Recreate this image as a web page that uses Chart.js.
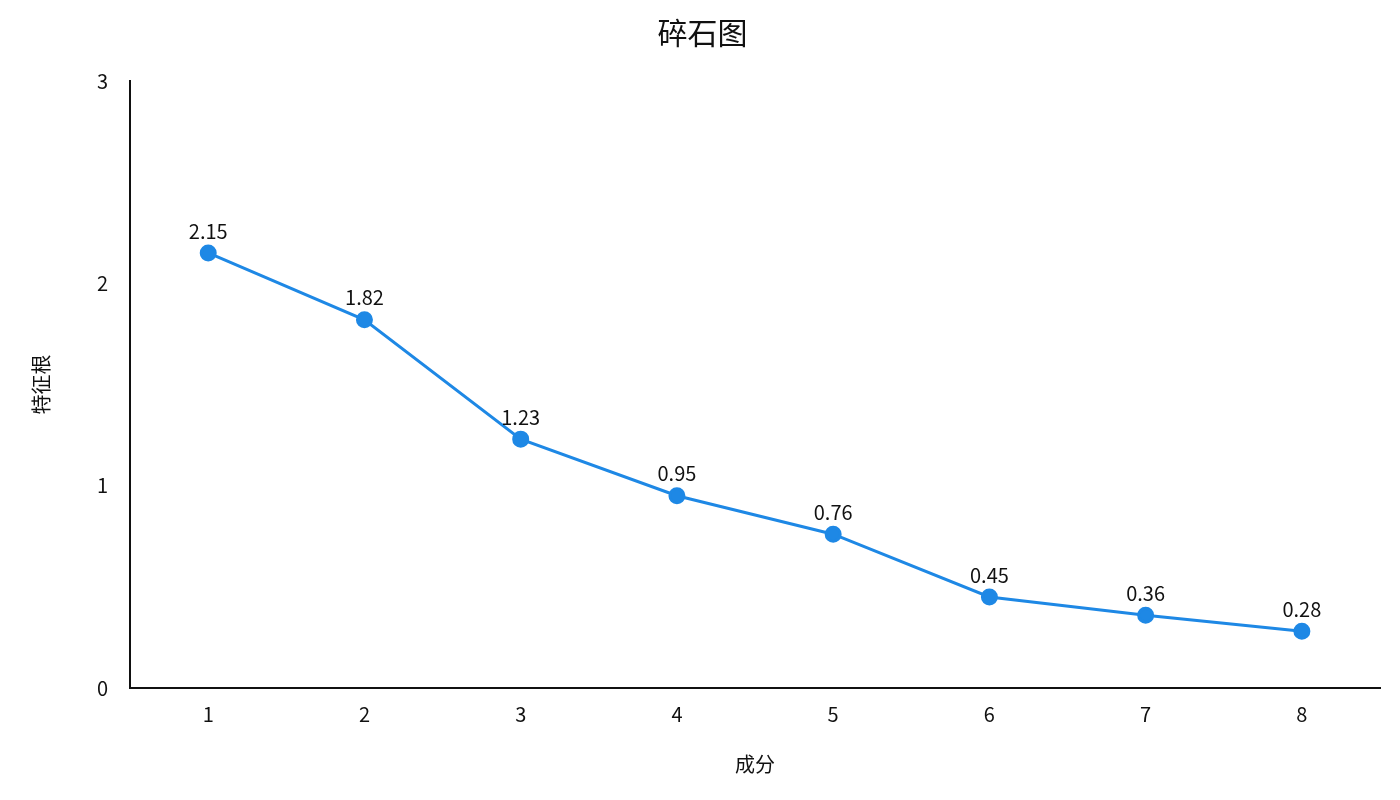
<!DOCTYPE html>
<html><head><meta charset="utf-8">
<script src="https://cdn.jsdelivr.net/npm/chart.js@4"></script>
<style>body{margin:0;background:#fff}#w{width:1400px;height:800px}</style>
</head><body><div id="w"><canvas id="c"></canvas></div>
<script>
const categories = ['1','2','3','4','5','6','7','8'];
const eigenvalues = [2.15, 1.82, 1.23, 0.95, 0.76, 0.45, 0.36, 0.28];
const yTicks = [0, 1, 2, 3];
const FONT = '"Noto Sans CJK SC", "Noto Sans", sans-serif';
const labelPlugin = {
  id: 'lbl',
  afterDatasetsDraw(chart) {
    const ctx = chart.ctx;
    const meta = chart.getDatasetMeta(0);
    ctx.save();
    ctx.font = '20px ' + FONT;
    ctx.fillStyle = '#111';
    ctx.textAlign = 'center';
    ctx.textBaseline = 'bottom';
    meta.data.forEach((p, i) => ctx.fillText(eigenvalues[i].toFixed(2), p.x, p.y - 12));
    ctx.restore();
  }
};
new Chart(document.getElementById('c'), {
  type: 'line',
  data: { labels: categories, datasets: [{ data: eigenvalues, borderColor: '#1e88e5', backgroundColor: '#1e88e5', borderWidth: 3, pointRadius: 7, pointHoverRadius: 7, tension: 0 }] },
  options: {
    responsive: true, maintainAspectRatio: false, animation: false,
    layout: { padding: { top: 10, right: 20, left: 25, bottom: 20 } },
    plugins: {
      legend: { display: false }, tooltip: { enabled: false },
      title: { display: true, text: '碎石图', font: { family: FONT, size: 30, weight: 'normal' }, color: '#111', padding: { top: 5, bottom: 30 } }
    },
    scales: {
      x: { offset: true, grid: { display: false, drawTicks: true, tickLength: 8, tickColor: '#111' }, border: { color: '#111', width: 2 },
           ticks: { color: '#111', font: { family: FONT, size: 20 }, padding: 6 },
           title: { display: true, text: '成分', color: '#111', font: { family: FONT, size: 20 }, padding: { top: 20 } } },
      y: { min: 0, max: 3, grid: { display: false, drawTicks: true, tickLength: 8, tickColor: '#111' }, border: { color: '#111', width: 2 },
           afterBuildTicks: a => { a.ticks = yTicks.map(v => ({ value: v })); },
           ticks: { color: '#111', font: { family: FONT, size: 20 }, padding: 14 },
           title: { display: true, text: '特征根', color: '#111', font: { family: FONT, size: 20 }, padding: { bottom: 30 } } }
    }
  },
  plugins: [labelPlugin]
});
</script></body></html>
